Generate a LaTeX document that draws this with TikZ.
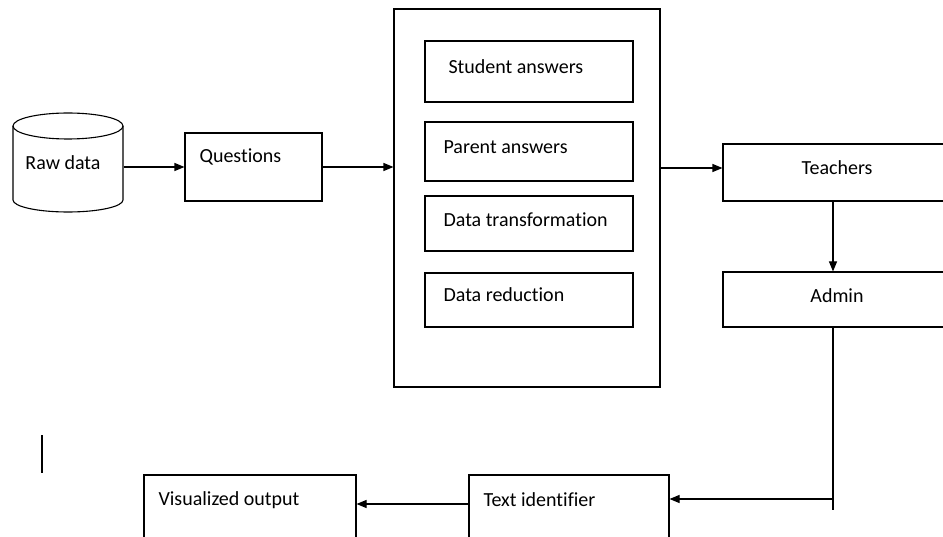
\documentclass[tikz,border=0pt]{standalone}
\usepackage{fontspec}
\setmainfont{Carlito}[Ligatures=NoCommon]
\usetikzlibrary{arrows.meta,calc}
\begin{document}
\begin{tikzpicture}[x=1pt,y=-1pt,
  line width=1.1pt,
  box/.style={draw, rectangle, inner sep=0pt, line width=1.1pt},
  lbl/.style={inner sep=0pt, font=\fontsize{20}{24}\selectfont, text=black},
  arr/.style={-{Triangle[length=10pt,width=8pt]}, line width=1.1pt}]
\useasboundingbox (0,0) rectangle (943,537);
\clip (0,0) rectangle (943,537);

% raw data store (cylinder)
\node[inner sep=0pt, minimum width=110pt, minimum height=86pt] (raw) at (68,167) {};
\draw (13,126) -- (13,200) arc[start angle=180, end angle=0, x radius=55, y radius=12] -- (123,126);
\draw (68,126) ellipse[x radius=55, y radius=13];
\node[lbl] (rawt) at (63,163) {Raw data};

% questions
\node[box, minimum width=137pt, minimum height=68pt] (q) at (253.5,167) {};
\node[lbl, anchor=west] (qt) at (199,157) {Questions};

% processing block with its four steps
\node[box, minimum width=266pt, minimum height=378pt] (big) at (527,198) {};
\node[box, minimum width=208pt, minimum height=61pt] (s1) at (529,71.5) {};
\node[box, minimum width=208pt, minimum height=59pt] (s2) at (529,151.5) {};
\node[box, minimum width=208pt, minimum height=55pt] (s3) at (529,223.5) {};
\node[box, minimum width=208pt, minimum height=54pt] (s4) at (529,300) {};
\node[lbl, anchor=west] (s1t) at (448,67) {Student answers};
\node[lbl, anchor=west] (s2t) at (443,147) {Parent answers};
\node[lbl, anchor=west] (s3t) at (443,220) {Data transformation};
\node[lbl, anchor=west] (s4t) at (443,295) {Data reduction};

% teachers and admin
\node[box, minimum width=240pt, minimum height=57pt] (t) at (843,172.5) {};
\node[lbl] (tt) at (837,168) {Teachers};
\node[box, minimum width=240pt, minimum height=55pt] (a) at (843,299.5) {};
\node[lbl] (at) at (837,296) {Admin};

% bottom row
\node[box, minimum width=200pt, minimum height=80pt] (ti) at (569,515) {};
\node[lbl, anchor=west] (tit) at (483,500) {Text identifier};
\node[box, minimum width=212pt, minimum height=80pt] (vo) at (250,515) {};
\node[lbl, anchor=west] (vot) at (158,500) {Visualized output};

\coordinate (down) at (833,201);
\coordinate (turn) at (833,499);
\coordinate (tail) at (833,510);
\coordinate (barA) at (42,435);
\coordinate (barB) at (42,473);

% connectors
\draw[arr] (raw.east) -- (q.west);
\draw[arr] (q.east) -- (big.west |- q.east);
\draw[arr] (big.east |- tt) -- (t.west |- tt);
\draw[arr] (down) -- (down |- a.north);
\draw (turn |- a.south) -- (tail);
\draw[arr] (turn) -- (ti.east |- turn);
\draw[arr] (ti.west |- 0,504) -- (vo.east |- 0,504);
\draw (barA) -- (barB);
\end{tikzpicture}
\end{document}
